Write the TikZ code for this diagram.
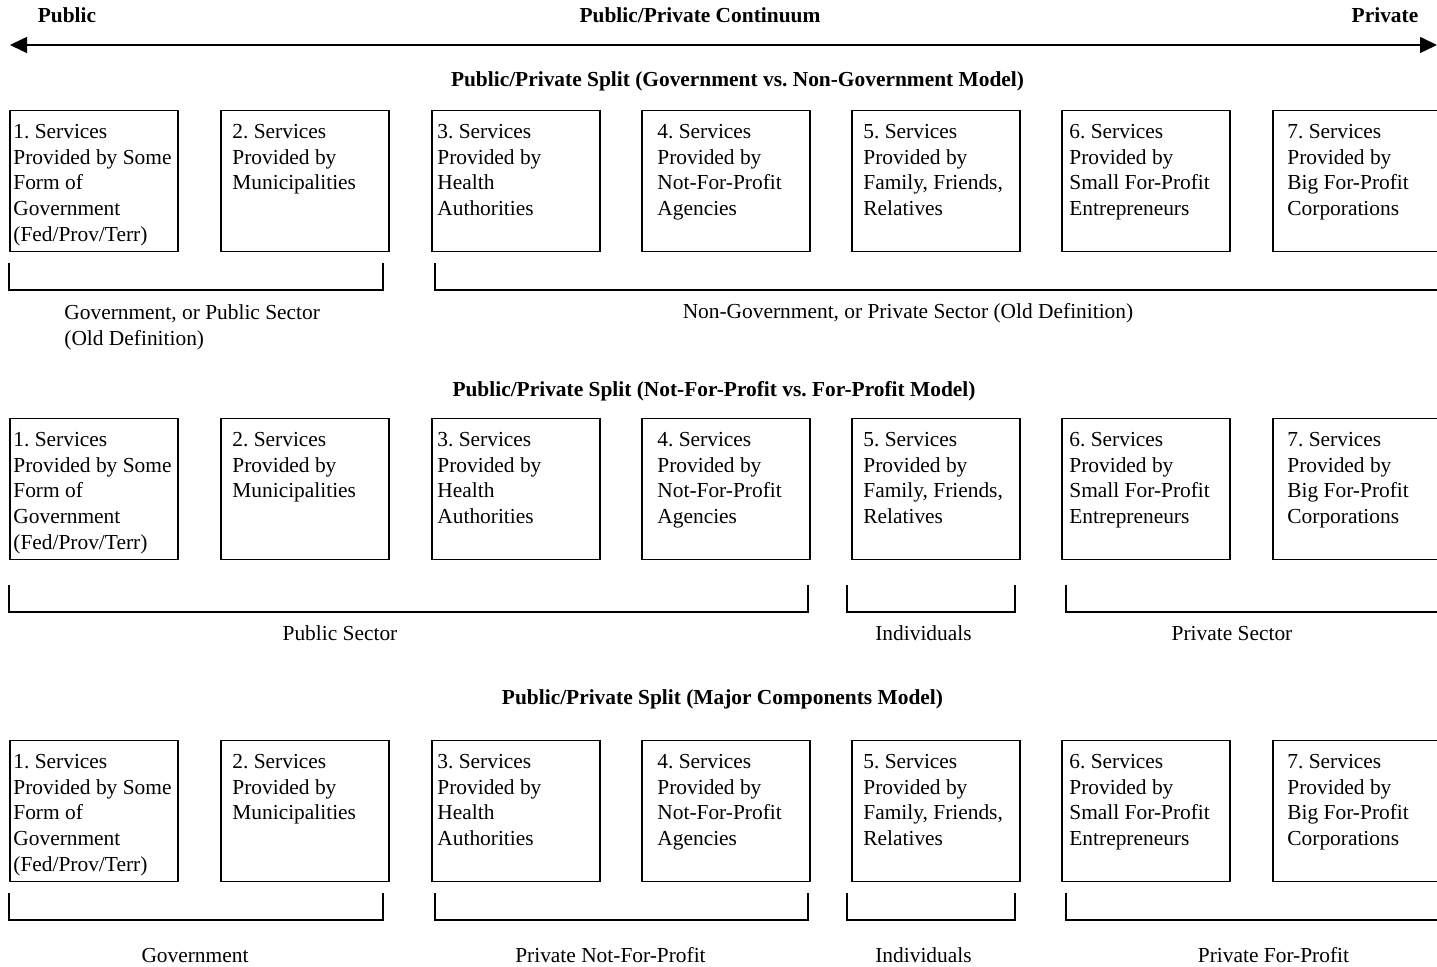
\documentclass[tikz,border=0pt]{standalone}
\usepackage{fontspec}
\setmainfont{Liberation Serif}
\usetikzlibrary{arrows.meta,calc}
\frenchspacing
\begin{document}
\begin{tikzpicture}[x=0.5pt,y=-0.5pt,
  txt/.style={inner sep=0pt,font=\fontsize{10.7}{12.85}\selectfont},
  heading/.style={txt,font=\fontsize{10.7}{12.85}\selectfont\bfseries,anchor=base},
  svcbox/.style={draw,line width=0.75pt,minimum width=84pt,minimum height=70.5pt,inner sep=0pt,anchor=north west},
  svctext/.style={txt,anchor=north west,align=left},
  grp/.style={txt,anchor=base},
  brk/.style={line width=0.75pt},
  bothends/.style={{Triangle[length=8.5pt,width=8pt]}-{Triangle[length=8.5pt,width=8pt]}}]
\useasboundingbox (0,0) rectangle (1437,967);
\clip (0,0) rectangle (1437,967);

% continuum header
\node[heading] (pub) at (67,23) {Public};
\node[heading] (cont) at (700,23) {Public/Private Continuum};
\node[heading] (priv) at (1385,23) {Private};
\coordinate (arrL) at (10,45);
\coordinate (arrR) at (1437,45);
\draw[line width=0.75pt,bothends] (arrL) -- (arrR);

% model titles
\node[heading] (m1) at (737.5,87) {Public/Private Split (Government vs. Non-Government Model)};
\node[heading] (m2) at (714,397) {Public/Private Split (Not-For-Profit vs. For-Profit Model)};
\node[heading] (m3) at (722.5,705) {Public/Private Split (Major Components Model)};

% the seven service providers, repeated for each model
\foreach \r/\yt in {1/110,2/418,3/740}{
  \node[svcbox] (b\r1) at (9,\yt) {};
  \node[svctext] (t\r1) at ($(b\r1.north west)+(4,10)$) {\strut 1. Services\\Provided by Some\\Form of\\Government\\(Fed/Prov/Terr)};
  \node[svcbox] (b\r2) at (220,\yt) {};
  \node[svctext] (t\r2) at ($(b\r2.north west)+(12,10)$) {\strut 2. Services\\Provided by\\Municipalities};
  \node[svcbox] (b\r3) at (431,\yt) {};
  \node[svctext] (t\r3) at ($(b\r3.north west)+(6,10)$) {\strut 3. Services\\Provided by\\Health\\Authorities};
  \node[svcbox] (b\r4) at (641,\yt) {};
  \node[svctext] (t\r4) at ($(b\r4.north west)+(16,10)$) {\strut 4. Services\\Provided by\\Not-For-Profit\\Agencies};
  \node[svcbox] (b\r5) at (851,\yt) {};
  \node[svctext] (t\r5) at ($(b\r5.north west)+(12,10)$) {\strut 5. Services\\Provided by\\Family, Friends,\\Relatives};
  \node[svcbox] (b\r6) at (1061,\yt) {};
  \node[svctext] (t\r6) at ($(b\r6.north west)+(8,10)$) {\strut 6. Services\\Provided by\\Small For-Profit\\Entrepreneurs};
  \node[svcbox] (b\r7) at (1272,\yt) {};
  \node[svctext] (t\r7) at ($(b\r7.north west)+(15,10)$) {\strut 7. Services\\Provided by\\Big For-Profit\\Corporations};
}

% groupings: government vs. non-government
\draw[brk] (9,263) -- (9,290) -- (383,290) -- (383,263);
\draw[brk] (435,263) -- (435,290) -- (1445,290);
\node[svctext] (g11) at (64,301) {\strut Government, or Public Sector\\(Old Definition)};
\node[grp] (g12) at (908,319) {Non-Government, or Private Sector (Old Definition)};

% groupings: not-for-profit vs. for-profit
\draw[brk] (9,585) -- (9,612) -- (808,612) -- (808,585);
\draw[brk] (847,585) -- (847,612) -- (1015,612) -- (1015,585);
\draw[brk] (1066,585) -- (1066,612) -- (1445,612);
\node[grp] (g21) at (340,641) {Public Sector};
\node[grp] (g22) at (923.5,641) {Individuals};
\node[grp] (g23) at (1232,641) {Private Sector};

% groupings: major components
\draw[brk] (9,893) -- (9,920) -- (383,920) -- (383,893);
\draw[brk] (435,893) -- (435,920) -- (808,920) -- (808,893);
\draw[brk] (847,893) -- (847,920) -- (1015,920) -- (1015,893);
\draw[brk] (1066,893) -- (1066,920) -- (1445,920);
\node[grp] (g31) at (195,963) {Government};
\node[grp] (g32) at (610.5,963) {Private Not-For-Profit};
\node[grp] (g33) at (923.5,963) {Individuals};
\node[grp] (g34) at (1273.5,963) {Private For-Profit};
\end{tikzpicture}
\end{document}
